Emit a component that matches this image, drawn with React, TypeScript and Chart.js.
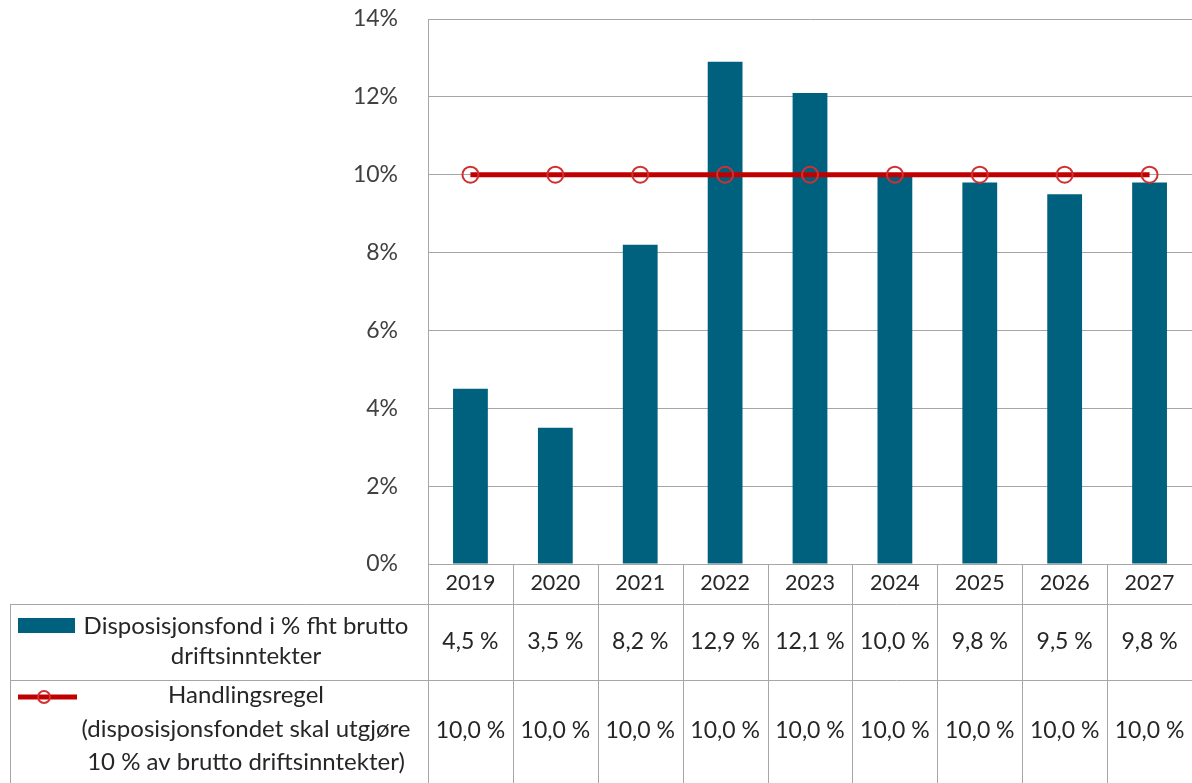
import React, { useEffect, useRef } from "react";
import { Chart, registerables } from "chart.js";

Chart.register(...registerables);

const years = ["2019", "2020", "2021", "2022", "2023", "2024", "2025", "2026", "2027"];
const fondValues = [4.5, 3.5, 8.2, 12.9, 12.1, 10.0, 9.8, 9.5, 9.8];
const regelValues = [10.0, 10.0, 10.0, 10.0, 10.0, 10.0, 10.0, 10.0, 10.0];
const fondLabelLines = ["Disposisjonsfond i % fht brutto", "driftsinntekter"];
const regelLabelLines = [
  "Handlingsregel",
  "(disposisjonsfondet skal utgjøre",
  "10 % av brutto driftsinntekter)",
];

const BAR_COLOR = "#00617F";
const LINE_COLOR = "#C00000";
const GRID_COLOR = "#A6A6A6";
const TEXT_COLOR = "#262626";
const FONT = "Lato";

const fmt = (v: number) => v.toFixed(1).replace(".", ",") + " %";

const tablePlugin = {
  id: "dataTable",
  afterDraw(chart: any) {
    const { ctx, chartArea, scales } = chart;
    const xs = scales.x;
    const n = years.length;
    const cw = (chartArea.right - chartArea.left) / n;
    const top = chartArea.bottom;
    const hdrBottom = top + 40;
    const row1Bottom = hdrBottom + 76;
    const bottom = chart.height;
    const tableLeft = 10;
    const labelCenter = 246;
    const px = (v: number) => Math.round(v) + 0.5;

    ctx.save();
    ctx.strokeStyle = GRID_COLOR;
    ctx.lineWidth = 1;
    const line = (x1: number, y1: number, x2: number, y2: number) => {
      ctx.beginPath();
      ctx.moveTo(x1, y1);
      ctx.lineTo(x2, y2);
      ctx.stroke();
    };
    // vertical cell borders
    for (let i = 0; i < n; i++) {
      const c = xs.getPixelForValue(i);
      line(px(c - cw / 2), top, px(c - cw / 2), bottom);
      if (i === n - 1) line(px(c + cw / 2), top, px(c + cw / 2), bottom);
    }
    // horizontal lines
    line(px(chartArea.left), px(top), chartArea.right, px(top));
    line(tableLeft, px(hdrBottom), chartArea.right, px(hdrBottom));
    line(tableLeft, px(row1Bottom), chartArea.right, px(row1Bottom));
    line(px(tableLeft), hdrBottom, px(tableLeft), bottom);

    ctx.fillStyle = TEXT_COLOR;
    ctx.textAlign = "center";
    ctx.textBaseline = "middle";
    // header years and values
    for (let i = 0; i < n; i++) {
      const c = xs.getPixelForValue(i);
      ctx.font = `21.5px ${FONT}`;
      ctx.fillText(years[i], c, top + 19);
      ctx.font = `23px ${FONT}`;
      ctx.fillText(fmt(fondValues[i]), c, hdrBottom + 38);
      ctx.fillText(fmt(regelValues[i]), c, row1Bottom + 51);
    }
    // row labels
    ctx.font = `24px ${FONT}`;
    ctx.fillText(fondLabelLines[0], labelCenter, hdrBottom + 22);
    ctx.fillText(fondLabelLines[1], labelCenter, hdrBottom + 52);
    ctx.fillText(regelLabelLines[0], labelCenter, row1Bottom + 15);
    ctx.fillText(regelLabelLines[1], labelCenter, row1Bottom + 49);
    ctx.fillText(regelLabelLines[2], labelCenter, row1Bottom + 82);

    // legend keys
    ctx.fillStyle = BAR_COLOR;
    ctx.fillRect(18, hdrBottom + 14, 57, 15);
    ctx.strokeStyle = LINE_COLOR;
    ctx.lineWidth = 5;
    line(18, row1Bottom + 17, 77, row1Bottom + 17);
    ctx.lineWidth = 2;
    ctx.strokeStyle = "#D03030";
    ctx.beginPath();
    ctx.arc(44, row1Bottom + 17, 6, 0, Math.PI * 2);
    ctx.stroke();
    ctx.restore();
  },
};

export default function App() {
  const ref = useRef<HTMLCanvasElement | null>(null);
  useEffect(() => {
    document.body.style.margin = "0";
    if (!ref.current) return;
    const chart = new Chart(ref.current, {
      type: "bar",
      data: {
        labels: years,
        datasets: [
          {
            type: "line",
            label: "Handlingsregel",
            data: regelValues,
            borderColor: LINE_COLOR,
            borderWidth: 5,
            pointRadius: 8,
            pointHoverRadius: 8,
            pointBorderWidth: 2,
            pointBorderColor: "#D03030",
            pointBackgroundColor: "rgba(0,0,0,0)",
            clip: false,
            order: 0,
          } as any,
          {
            type: "bar",
            label: "Disposisjonsfond i % fht brutto driftsinntekter",
            data: fondValues,
            backgroundColor: BAR_COLOR,
            barPercentage: 0.41,
            categoryPercentage: 1,
            order: 1,
          },
        ],
      },
      options: {
        responsive: false,
        animation: false,
        layout: { autoPadding: false, padding: { left: 0, top: 19, right: 0, bottom: 219 } },
        plugins: { legend: { display: false }, tooltip: { enabled: false } },
        scales: {
          x: { display: false, offset: true },
          y: {
            min: 0,
            max: 14,
            ticks: {
              stepSize: 2,
              padding: 0,
              color: "#404040",
              font: { family: FONT, size: 23 },
              callback: (v: any) => v + "%",
            },
            grid: {
              color: GRID_COLOR,
              drawTicks: true,
              tickLength: 30,
              tickColor: "rgba(0,0,0,0)",
              lineWidth: 1,
            },
            border: { display: true, color: GRID_COLOR },
            afterFit: (scale: any) => {
              scale.width = 428;
            },
          },
        },
      },
      plugins: [tablePlugin],
    });
    return () => chart.destroy();
  }, []);
  return (
    <div style={{ width: 1192, height: 783 }}>
      <canvas ref={ref} width={1192} height={783} style={{ display: "block" }} />
    </div>
  );
}
